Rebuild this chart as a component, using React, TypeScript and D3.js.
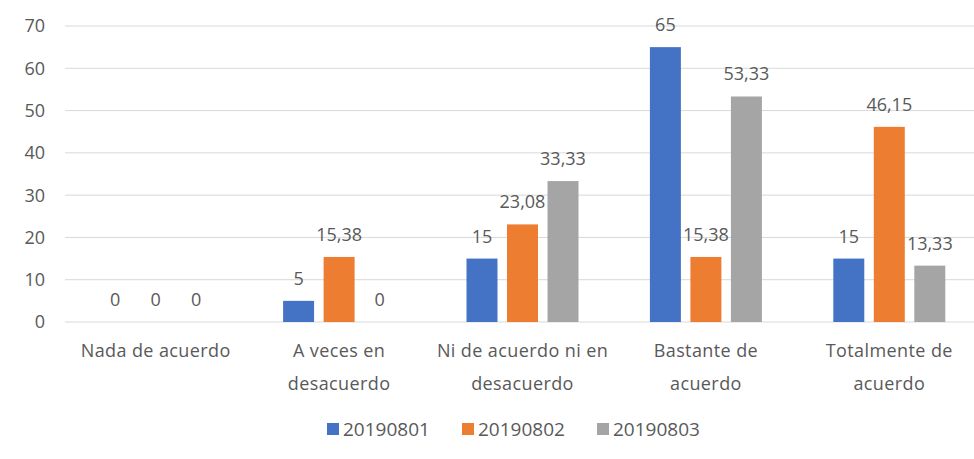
import React from "react";
import * as d3 from "d3";

const categories = [
  ["Nada de acuerdo"],
  ["A veces en", "desacuerdo"],
  ["Ni de acuerdo ni en", "desacuerdo"],
  ["Bastante de", "acuerdo"],
  ["Totalmente de", "acuerdo"],
];
const seriesNames = ["20190801", "20190802", "20190803"];
const s1 = [0, 5, 15, 65, 15];
const s2 = [0, 15.38, 23.08, 15.38, 46.15];
const s3 = [0, 0, 33.33, 53.33, 13.33];
const seriesValues = [s1, s2, s3];
const colors = ["#4472C4", "#ED7D31", "#A5A5A5"];
const yTicks = [0, 10, 20, 30, 40, 50, 60, 70];

const W = 974;
const H = 459;
const FONT = "'Open Sans', sans-serif";
const TXT = "#595959";

function fmt(v: number) {
  return String(v).replace(".", ",");
}

export default function App() {
  const y = d3.scaleLinear().domain([0, 70]).range([322, 26]);
  const catIdx = categories.map((_, i) => String(i));
  const x0 = d3.scaleBand().domain(catIdx).range([64, 981]).padding(0);
  const groupW = 112;
  const x1 = d3
    .scaleBand()
    .domain(seriesNames)
    .range([0, groupW])
    .paddingInner(0.235)
    .paddingOuter(0);
  const off = (x0.bandwidth() - groupW) / 2;

  const legendStep = 135;
  const legendStart = 327;

  return (
    <svg
      width={W}
      height={H}
      style={{ position: "absolute", left: 0, top: 0, background: "#fff" }}
      fontFamily={FONT}
    >
      <rect x={0} y={0} width={W} height={H} fill="#fff" />
      {yTicks.map((t) => (
        <g key={t}>
          <line x1={65} x2={W} y1={y(t)} y2={y(t)} stroke="#D9D9D9" strokeWidth={1} />
          <text x={45} y={y(t)} dy="0.36em" textAnchor="end" fontSize={18} fill={TXT}>
            {t}
          </text>
        </g>
      ))}
      {categories.map((cat, ci) => (
        <g key={ci} transform={`translate(${(x0(String(ci)) as number) + off},0)`}>
          {seriesNames.map((s, si) => {
            const v = seriesValues[si][ci];
            const bx = x1(s) as number;
            return (
              <g key={s}>
                {v > 0 && (
                  <rect
                    x={bx}
                    y={y(v)}
                    width={x1.bandwidth()}
                    height={y(0) - y(v)}
                    fill={colors[si]}
                  />
                )}
                <text
                  x={bx + x1.bandwidth() / 2}
                  y={y(v) - 16}
                  textAnchor="middle"
                  fontSize={18}
                  fill={TXT}
                >
                  {fmt(v)}
                </text>
              </g>
            );
          })}
        </g>
      ))}
      {categories.map((cat, ci) => (
        <text
          key={ci}
          x={(x0(String(ci)) as number) + x0.bandwidth() / 2}
          y={357}
          textAnchor="middle"
          fontSize={18}
          letterSpacing={0.4}
          fill={TXT}
        >
          {cat.map((line, li) => (
            <tspan key={li} x={(x0(String(ci)) as number) + x0.bandwidth() / 2} dy={li === 0 ? 0 : 33}>
              {line}
            </tspan>
          ))}
        </text>
      ))}
      {seriesNames.map((s, si) => (
        <g key={s} transform={`translate(${legendStart + si * legendStep},0)`}>
          <rect x={0} y={423} width={12} height={12} fill={colors[si]} />
          <text x={16} y={436} fontSize={19} fill={TXT}>
            {s}
          </text>
        </g>
      ))}
    </svg>
  );
}
